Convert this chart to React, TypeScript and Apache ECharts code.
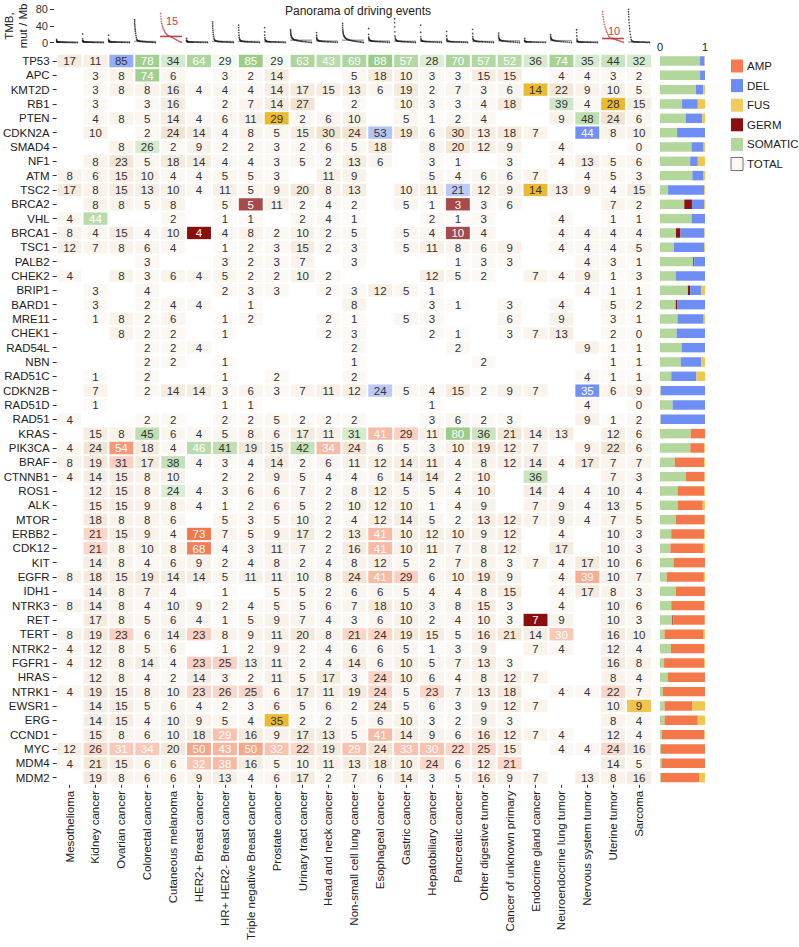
import React, { useEffect, useRef } from "react";
import * as echarts from "echarts";

const _ = null;

const cancerTypes = [
  "Mesothelioma", "Kidney cancer", "Ovarian cancer", "Colorectal cancer", "Cutaneous melanoma",
  "HER2+ Breast cancer", "HR+ HER2- Breast cancer", "Triple negative Breast cancer", "Prostate cancer",
  "Urinary tract cancer", "Head and neck cancer", "Non-small cell lung cancer", "Esophageal cancer",
  "Gastric cancer", "Hepatobiliary cancer", "Pancreatic cancer", "Other digestive tumor",
  "Cancer of unknown primary", "Endocrine gland cancer", "Neuroendocrine lung tumor",
  "Nervous system tumor", "Uterine tumor", "Sarcoma",
];

const genes = [
  "TP53", "APC", "KMT2D", "RB1", "PTEN", "CDKN2A", "SMAD4", "NF1", "ATM", "TSC2", "BRCA2", "VHL",
  "BRCA1", "TSC1", "PALB2", "CHEK2", "BRIP1", "BARD1", "MRE11", "CHEK1", "RAD54L", "NBN", "RAD51C",
  "CDKN2B", "RAD51D", "RAD51", "KRAS", "PIK3CA", "BRAF", "CTNNB1", "ROS1", "ALK", "MTOR", "ERBB2",
  "CDK12", "KIT", "EGFR", "IDH1", "NTRK3", "RET", "TERT", "NTRK2", "FGFR1", "HRAS", "NTRK1", "EWSR1",
  "ERG", "CCND1", "MYC", "MDM4", "MDM2",
];

// % of patients with a driving event (one value per cancer type, null = none)
const TP53 = [17,11,85,78,34,64,29,85,29,63,43,69,88,57,28,70,57,52,36,74,35,44,32];
const APC = [_,3,8,74,6,_,3,2,14,_,_,5,18,10,3,3,15,15,_,4,4,3,2];
const KMT2D = [_,3,8,8,16,4,4,4,14,17,15,13,6,19,2,7,3,6,14,22,9,10,5];
const RB1 = [_,3,_,3,16,_,2,7,14,27,_,2,_,10,3,3,4,18,_,39,4,28,15];
const PTEN = [_,4,8,5,14,4,6,11,29,2,6,10,_,5,1,2,4,_,_,9,48,24,6];
const CDKN2A = [_,10,_,2,24,14,4,8,5,15,30,24,53,19,6,30,13,18,7,_,44,8,10];
const SMAD4 = [_,_,8,26,2,9,2,2,3,2,6,5,18,_,8,20,12,9,_,4,_,_,0];
const NF1 = [_,8,23,5,18,14,4,4,3,5,2,13,6,_,3,1,_,3,_,4,13,5,6];
const ATM = [8,6,15,10,4,4,5,5,3,_,11,9,_,_,5,4,6,6,7,_,4,5,3];
const TSC2 = [17,8,15,13,10,4,11,5,9,20,8,13,_,10,11,21,12,9,14,13,9,4,15];
const BRCA2 = [_,8,8,5,8,_,5,5,11,2,4,2,_,5,1,3,3,6,_,_,_,7,2];
const VHL = [4,44,_,_,2,_,1,1,_,2,4,1,_,_,2,1,3,_,_,4,_,1,1];
const BRCA1 = [8,4,15,4,10,4,4,8,2,10,2,5,_,5,4,10,4,_,_,4,4,4,4];
const TSC1 = [12,7,8,6,4,_,1,2,3,15,2,3,_,5,11,8,6,9,_,4,4,4,5];
const PALB2 = [_,_,_,3,_,_,3,2,3,7,_,3,_,_,_,1,3,3,_,_,4,3,1];
const CHEK2 = [4,_,8,3,6,4,5,2,2,10,2,_,_,_,12,5,2,_,7,4,9,1,3];
const BRIP1 = [_,3,_,4,_,_,2,3,3,_,2,3,12,5,1,_,_,_,_,_,4,1,1];
const BARD1 = [_,3,_,2,4,4,_,1,_,_,_,8,_,_,3,1,_,3,_,4,_,5,2];
const MRE11 = [_,1,8,2,6,_,1,2,_,_,2,1,_,5,3,_,_,6,_,9,_,3,1];
const CHEK1 = [_,_,8,2,2,_,1,_,_,_,2,3,_,_,2,1,_,3,7,13,_,2,0];
const RAD54L = [_,_,_,2,2,4,_,_,_,_,_,2,_,_,_,2,_,_,_,_,9,1,1];
const NBN = [_,_,_,2,2,_,1,_,_,_,_,1,_,_,_,_,2,_,_,_,_,1,1];
const RAD51C = [_,1,_,2,_,_,1,_,2,_,_,2,_,_,_,_,_,_,_,_,4,1,1];
const CDKN2B = [_,7,_,2,14,14,3,6,3,7,11,12,24,5,4,15,2,9,7,_,35,6,9];
const RAD51D = [_,1,_,_,_,_,1,1,_,_,_,_,_,_,1,_,_,_,_,_,4,_,0];
const RAD51 = [4,_,_,2,2,_,2,2,5,2,2,2,_,_,3,6,2,3,_,_,9,1,2];
const KRAS = [_,15,8,45,6,4,5,8,6,17,11,31,41,29,11,80,36,21,14,13,_,12,6];
const PIK3CA = [4,24,54,18,4,46,41,19,15,42,34,24,6,5,3,10,19,12,7,_,9,22,6];
const BRAF = [8,19,31,17,38,4,3,4,14,2,6,11,12,14,11,4,8,12,14,4,17,7,7];
const CTNNB1 = [4,14,15,8,10,_,2,2,9,5,4,4,6,14,14,2,10,_,36,_,_,7,3];
const ROS1 = [_,12,15,8,24,4,3,6,6,7,2,8,12,5,5,4,10,_,14,4,4,10,4];
const ALK = [_,15,15,9,8,4,1,2,6,5,2,10,12,10,1,4,9,_,7,9,4,13,5];
const MTOR = [_,18,8,8,6,_,5,3,5,10,2,4,12,14,5,2,13,12,7,9,4,7,5];
const ERBB2 = [_,21,15,9,4,73,7,5,9,17,2,13,41,10,12,10,9,12,_,4,_,10,3];
const CDK12 = [_,21,8,10,8,68,4,3,11,7,2,16,41,10,11,7,8,12,_,17,_,10,3];
const KIT = [_,14,8,4,6,9,2,4,8,2,4,8,12,5,2,7,8,3,7,4,17,10,6];
const EGFR = [8,18,15,19,14,14,5,11,11,10,8,24,41,29,6,10,19,9,_,4,39,10,7];
const IDH1 = [_,14,8,7,4,_,1,_,5,5,2,6,6,5,4,4,8,15,_,4,17,8,3];
const NTRK3 = [8,14,8,4,10,9,2,4,5,5,6,7,18,10,3,8,15,3,_,4,_,10,6];
const RET = [_,17,8,5,6,4,1,5,9,7,4,3,6,10,2,4,10,3,7,9,_,10,3];
const TERT = [8,19,23,6,14,23,8,9,11,20,8,21,24,19,15,5,16,21,14,30,_,16,10];
const NTRK2 = [4,12,8,5,6,_,1,2,9,2,4,6,6,5,1,3,9,_,7,4,_,12,4];
const FGFR1 = [4,12,8,14,4,23,25,13,11,2,4,14,6,10,5,7,13,3,_,_,_,16,8];
const HRAS = [_,12,8,4,2,14,3,2,11,5,17,3,24,10,6,4,8,12,7,_,_,8,4];
const NTRK1 = [4,19,15,8,10,23,26,25,6,17,11,19,24,5,23,7,13,18,_,4,4,22,7];
const EWSR1 = [_,14,15,5,6,4,2,3,6,5,6,2,24,5,6,3,9,12,7,_,_,10,9];
const ERG = [_,14,15,4,10,9,5,4,35,2,2,5,6,10,3,2,9,3,_,_,_,8,4];
const CCND1 = [_,15,8,6,10,18,29,16,9,17,13,5,41,14,9,6,16,12,7,4,_,12,4];
const MYC = [12,26,31,34,20,50,43,50,32,22,19,29,24,33,30,22,25,15,_,4,4,24,16];
const MDM4 = [4,21,15,6,6,32,38,16,5,10,11,13,18,10,24,6,12,21,_,_,_,14,5];
const MDM2 = [_,19,8,6,6,9,13,4,6,17,2,7,6,14,3,5,16,9,7,_,13,8,16];

const frequencies = [
  TP53, APC, KMT2D, RB1, PTEN, CDKN2A, SMAD4, NF1, ATM, TSC2, BRCA2, VHL, BRCA1, TSC1, PALB2, CHEK2,
  BRIP1, BARD1, MRE11, CHEK1, RAD54L, NBN, RAD51C, CDKN2B, RAD51D, RAD51, KRAS, PIK3CA, BRAF, CTNNB1,
  ROS1, ALK, MTOR, ERBB2, CDK12, KIT, EGFR, IDH1, NTRK3, RET, TERT, NTRK2, FGFR1, HRAS, NTRK1, EWSR1,
  ERG, CCND1, MYC, MDM4, MDM2,
];

// cells dominated by one event type: [gene, cancer type index, event type, share of that type]
const dominantEvents = [
  ["TP53",2,"DEL",0.7],["TP53",3,"SOMATIC",0.8],["TP53",4,"SOMATIC",0.35],["TP53",5,"SOMATIC",0.7],
  ["TP53",6,"SOMATIC",0.12],["TP53",7,"SOMATIC",0.85],["TP53",8,"SOMATIC",0.12],["TP53",9,"SOMATIC",0.7],
  ["TP53",10,"SOMATIC",0.6],["TP53",11,"SOMATIC",0.7],["TP53",12,"SOMATIC",0.85],["TP53",13,"SOMATIC",0.65],
  ["TP53",14,"SOMATIC",0.3],["TP53",15,"SOMATIC",0.7],["TP53",16,"SOMATIC",0.65],["TP53",17,"SOMATIC",0.62],
  ["TP53",18,"SOMATIC",0.35],["TP53",19,"SOMATIC",0.75],["TP53",20,"SOMATIC",0.35],["TP53",21,"SOMATIC",0.45],
  ["TP53",22,"SOMATIC",0.35],
  ["APC",3,"SOMATIC",0.8],
  ["KMT2D",18,"FUS",1],
  ["RB1",19,"SOMATIC",0.4],["RB1",21,"FUS",1],
  ["PTEN",8,"FUS",1],["PTEN",20,"SOMATIC",0.55],
  ["CDKN2A",12,"DEL",0.5],["CDKN2A",20,"DEL",0.95],
  ["SMAD4",3,"SOMATIC",0.35],
  ["TSC2",15,"DEL",0.45],["TSC2",18,"FUS",1],
  ["BRCA2",7,"GERM",0.75],["BRCA2",15,"GERM",0.75],
  ["VHL",1,"SOMATIC",0.6],
  ["BRCA1",5,"GERM",1],["BRCA1",15,"GERM",0.75],
  ["CDKN2B",12,"DEL",0.45],["CDKN2B",20,"DEL",0.95],
  ["KRAS",3,"SOMATIC",0.55],["KRAS",11,"SOMATIC",0.35],["KRAS",12,"AMP",0.5],["KRAS",13,"AMP",0.35],
  ["KRAS",15,"SOMATIC",0.85],["KRAS",16,"SOMATIC",0.45],
  ["PIK3CA",2,"AMP",0.75],["PIK3CA",5,"SOMATIC",0.6],["PIK3CA",6,"SOMATIC",0.55],["PIK3CA",9,"SOMATIC",0.5],
  ["PIK3CA",10,"AMP",0.5],
  ["BRAF",2,"AMP",0.35],["BRAF",4,"SOMATIC",0.5],
  ["CTNNB1",18,"SOMATIC",0.45],
  ["ROS1",4,"SOMATIC",0.3],
  ["ERBB2",1,"AMP",0.3],["ERBB2",5,"AMP",1],["ERBB2",12,"AMP",0.5],
  ["CDK12",1,"AMP",0.3],["CDK12",5,"AMP",0.95],["CDK12",12,"AMP",0.5],
  ["EGFR",12,"AMP",0.5],["EGFR",13,"AMP",0.35],["EGFR",20,"AMP",0.6],
  ["RET",18,"GERM",1],
  ["TERT",2,"AMP",0.35],["TERT",5,"AMP",0.35],["TERT",11,"AMP",0.3],["TERT",12,"AMP",0.3],["TERT",19,"AMP",0.4],
  ["FGFR1",5,"AMP",0.35],["FGFR1",6,"AMP",0.35],
  ["HRAS",12,"AMP",0.3],
  ["NTRK1",5,"AMP",0.3],["NTRK1",6,"AMP",0.3],["NTRK1",7,"AMP",0.3],["NTRK1",12,"AMP",0.3],
  ["NTRK1",14,"AMP",0.3],["NTRK1",21,"AMP",0.3],
  ["EWSR1",22,"FUS",0.85],
  ["ERG",8,"FUS",1],
  ["CCND1",6,"AMP",0.45],["CCND1",12,"AMP",0.5],
  ["MYC",1,"AMP",0.3],["MYC",2,"AMP",0.4],["MYC",3,"AMP",0.4],["MYC",5,"AMP",0.65],["MYC",6,"AMP",0.55],
  ["MYC",7,"AMP",0.65],["MYC",8,"AMP",0.45],["MYC",9,"AMP",0.3],["MYC",11,"AMP",0.45],["MYC",13,"AMP",0.45],
  ["MYC",14,"AMP",0.45],["MYC",15,"AMP",0.3],["MYC",16,"AMP",0.3],["MYC",21,"AMP",0.3],
  ["MDM4",5,"AMP",0.45],["MDM4",6,"AMP",0.5],["MDM4",14,"AMP",0.3],["MDM4",17,"AMP",0.3],
];

// share of each event type per gene (right panel)
const somaticShare = [0.89,0.89,0.8,0.49,0.57,0.38,0.7,0.67,0.72,0.18,0.54,0.7,0.355,0.31,0.74,0.35,0.62,0.35,0.39,0.37,0.48,0.46,0.25,0.02,0.28,0.02,0.68,0.675,0.33,0.57,0.39,0.39,0.35,0.25,0.23,0.3,0.145,0.35,0.25,0.275,0.1,0.24,0.09,0.17,0.065,0.1,0.1,0.04,0.02,0.035,0.02];
const germlineShare = [0,0,0,0,0,0,0,0,0,0,0.17,0,0.1,0,0.02,0,0.05,0.03,0,0,0,0,0,0,0,0,0,0,0,0,0,0,0,0,0,0,0,0,0,0.02,0,0,0,0,0,0,0,0,0,0,0];
const deletionShare = [0.1,0.11,0.16,0.35,0.37,0.62,0.27,0.17,0.25,0.8,0.27,0.3,0.53,0.67,0.24,0.65,0.24,0.62,0.58,0.63,0.52,0.46,0.56,0.98,0.72,0.98,0,0,0,0,0,0,0,0,0,0,0,0,0,0,0,0,0,0,0,0,0,0,0,0,0];
const amplificationShare = [0,0,0,0,0,0,0,0,0,0,0,0,0,0,0,0,0,0,0,0,0,0,0,0,0,0,0.32,0.31,0.65,0.42,0.59,0.56,0.645,0.73,0.74,0.7,0.83,0.65,0.74,0.7,0.87,0.75,0.89,0.83,0.935,0.62,0.74,0.95,0.98,0.965,0.855];
const fusionShare = [0.01,0,0.04,0.16,0.06,0,0.03,0.16,0.03,0.02,0.02,0,0.015,0.02,0,0,0.09,0,0.03,0,0,0.08,0.19,0,0,0,0,0.015,0.02,0.01,0.02,0.05,0.005,0.02,0.03,0,0.025,0,0.01,0.005,0.03,0.01,0.02,0,0,0.28,0.16,0.01,0,0,0.125];

// tumour mutational burden (mut/Mb) per patient, sorted, per cancer type
const tmbMesothelioma = [8,5,3.5,3,2.6,2.3,2.1,2,1.9,1.8,1.7,1.6,1.5,1.5,1.4,1.3,1.2,1.1,1,1,0.9,0.8,0.7,0.6,0.5,0.4,0.3,0.2];
const tmbKidney = [21,9,5,4,3.4,3,2.7,2.5,2.3,2.1,2,1.9,1.8,1.7,1.6,1.5,1.4,1.3,1.2,1.1,1,0.9,0.8,0.7,0.6,0.5,0.4,0.3];
const tmbOvarian = [18,8,5,4,3.5,3.1,2.8,2.6,2.4,2.2,2.1,2,1.9,1.8,1.7,1.6,1.5,1.4,1.3,1.2,1.1,1,0.9,0.8,0.6,0.4];
const tmbColorectal = [55,51,47,43,39,35,31,27,22,17,12,8,6,5,4.4,4,3.7,3.4,3.2,3,2.8,2.6,2.4,2.2,2,1.8,1.6,1.4,1.2,1,0.8,0.5];
const tmbMelanoma = [70,63,57,51,46,41,37,33,30,27,24,22,20,18,16.5,15.5,15,14.5,13.5,12,10.5,9,7.5,6,4.5,3,2,1];
const tmbHER2 = [10,6,4.5,3.6,3.1,2.8,2.5,2.3,2.1,2,1.9,1.8,1.7,1.6,1.5,1.4,1.3,1.2,1.1,1,0.9,0.8,0.6,0.4];
const tmbHRpos = [50,45,40,35,30,25,20,15,11,8,6,5,4.3,3.8,3.4,3.1,2.9,2.7,2.5,2.3,2.1,2,1.8,1.6,1.4,1.2,1,0.7,0.4];
const tmbTNBC = [42,36,30,24,18,13,9,7,5.5,4.6,4,3.6,3.3,3,2.8,2.6,2.4,2.2,2,1.8,1.6,1.4,1.2,1,0.7,0.4];
const tmbProstate = [36,26,18,12,8,6,4.8,4,3.4,3,2.7,2.5,2.3,2.1,2,1.9,1.8,1.7,1.5,1.3,1.1,0.9,0.6,0.3];
const tmbUrinary = [31,28,25,22,19,17,15,13,11.5,10,9,8.2,7.5,6.9,6.3,5.8,5.3,4.8,4.3,3.9,3.5,3.1,2.7,2.3,1.9,1.5,1,0.5];
const tmbHeadNeck = [24,18,13,10,8,6.8,6,5.4,4.9,4.5,4.1,3.8,3.5,3.2,3,2.8,2.6,2.4,2.2,2,1.7,1.4,1.1,0.7];
const tmbNSCLC = [46,41,36,32,28,25,22,19.5,17,15,13.5,12,10.8,9.7,8.8,8,7.3,6.7,6.1,5.6,5.1,4.6,4.1,3.6,3.1,2.6,2.1,1.6,1,0.5];
const tmbEsophageal = [34,20,13,10,8,6.8,6,5.4,4.9,4.5,4.1,3.8,3.5,3.2,3,2.8,2.6,2.4,2.2,2,1.7,1.4,1,0.6];
const tmbGastric = [57,48,38,26,16,11,8,6.5,5.5,4.8,4.3,3.9,3.6,3.3,3.1,2.9,2.7,2.5,2.3,2.1,1.9,1.7,1.4,1.1,0.8,0.4];
const tmbHepatobiliary = [42,25,14,9,6.5,5.2,4.5,4,3.6,3.3,3,2.8,2.6,2.4,2.2,2,1.8,1.6,1.4,1.1,0.8,0.4];
const tmbPancreatic = [27,16,10,7,5.4,4.5,3.9,3.5,3.2,2.9,2.7,2.5,2.3,2.2,2,1.9,1.7,1.5,1.3,1.1,0.8,0.5];
const tmbOtherDigestive = [32,22,15,10.5,8,6.5,5.5,4.8,4.3,3.9,3.5,3.2,2.9,2.7,2.5,2.3,2.1,1.8,1.5,1.2,0.8,0.4];
const tmbUnknownPrimary = [23,18,14,11.5,9.5,8,7,6.2,5.6,5,4.6,4.2,3.8,3.5,3.2,2.9,2.6,2.3,2,1.7,1.3,0.9,0.5];
const tmbEndocrine = [10,5.5,4,3.2,2.7,2.4,2.2,2,1.9,1.8,1.7,1.6,1.5,1.4,1.2,1,0.8,0.6,0.4];
const tmbNELung = [19,15,12,10,8.8,7.8,7,6.3,5.7,5.2,4.7,4.3,3.9,3.5,3.1,2.7,2.3,1.9,1.4,0.9,0.5];
const tmbNervous = [31,24,16,9,5.5,3.8,3,2.6,2.3,2.1,1.9,1.8,1.7,1.6,1.5,1.4,1.3,1.2,1.1,1,0.9,0.8,0.6,0.4];
const tmbUterine = [74,68,62,56,50,44,38,33,28,24,20,16,13,11,10.4,10,9.6,9,8,7,6,5,4,3,2,1];
const tmbSarcoma = [80,74,68,62,55,48,41,34,27,20,13,7,4,3,2.6,2.3,2.1,1.9,1.8,1.7,1.6,1.5,1.4,1.3,1.2,1,0.8,0.6,0.4];

const tmbMedian = [1.5,2,2,3,15,2,3,3,2,6,4,6,4,3.5,3,2.4,3,4.5,1.9,5,1.8,10,1.8];
const tmbHighlighted = [4, 21];

const tmbByType = [
  tmbMesothelioma, tmbKidney, tmbOvarian, tmbColorectal, tmbMelanoma, tmbHER2, tmbHRpos, tmbTNBC,
  tmbProstate, tmbUrinary, tmbHeadNeck, tmbNSCLC, tmbEsophageal, tmbGastric, tmbHepatobiliary,
  tmbPancreatic, tmbOtherDigestive, tmbUnknownPrimary, tmbEndocrine, tmbNELung, tmbNervous,
  tmbUterine, tmbSarcoma,
];

const FONT = "Liberation Sans, Arial, Helvetica, sans-serif";
const RED = "#c0424a";

const cellBase: Record<string, number[]> = {
  AMP: [244, 118, 76],
  DEL: [104, 138, 243],
  FUS: [236, 186, 48],
  GERM: [139, 14, 14],
  SOMATIC: [138, 195, 115],
  TOTAL: [236, 216, 190],
};

const legendColors: Record<string, string> = {
  AMP: "#f87a4f",
  DEL: "#6c8cf5",
  FUS: "#f1cc5c",
  GERM: "#8b0f0f",
  SOMATIC: "#b3d89b",
  TOTAL: "#fcf7f1",
};

const barColors = {
  SOMATIC: "#b3d69a",
  GERM: "#8b1212",
  DEL: "#6e8ef5",
  AMP: "#f5784a",
  FUS: "#efc64e",
};

function rgba(c: number[], a: number) {
  return `rgba(${c[0]},${c[1]},${c[2]},${a})`;
}

function whiteText(type: string, level: number) {
  if (type === "GERM") return true;
  if (type === "AMP") return level >= 0.4;
  if (type === "SOMATIC") return level >= 0.6;
  if (type === "DEL") return level >= 0.8;
  return false;
}

export default function App() {
  const ref = useRef<HTMLDivElement>(null);

  useEffect(() => {
    if (!ref.current) return;
    const chart = echarts.init(ref.current, null, { renderer: "svg" });

    const dominantMap: Record<string, [string, number]> = {};
    dominantEvents.forEach((d: any) => {
      dominantMap[`${genes.indexOf(d[0])}-${d[1]}`] = [d[2], d[3]];
    });

    const cells: number[][] = [];
    frequencies.forEach((row, g) =>
      row.forEach((v, c) => {
        if (v !== null && v !== undefined) cells.push([c, g, v as number]);
      })
    );

    const tmbNormal: number[][] = [];
    const tmbRed: number[][] = [];
    tmbByType.forEach((vals, i) => {
      const n = vals.length;
      const hi = tmbHighlighted.includes(i);
      vals.forEach((v, k) => {
        const frac = n > 1 ? k / (n - 1) : 0;
        const x = i + 0.1 + 0.8 * Math.pow(frac, hi ? 1.5 : 2.2);
        (hi ? tmbRed : tmbNormal).push([x, v]);
      });
    });
    const medianData = tmbMedian.map((m, i) => [i, m, tmbHighlighted.includes(i) ? 1 : 0]);
    const medianLabelLift: Record<number, number> = { 4: 15, 21: 8 };

    const legendNames = ["AMP", "DEL", "FUS", "GERM", "SOMATIC", "TOTAL"];
    const graphic: any[] = [];
    legendNames.forEach((name, i) => {
      const cy = 66 + i * 19.6;
      graphic.push({
        type: "rect",
        shape: { x: 731, y: cy - 6.5, width: 12, height: 13 },
        style: {
          fill: legendColors[name],
          stroke: name === "TOTAL" ? "#777" : undefined,
          lineWidth: name === "TOTAL" ? 1 : 0,
        },
      });
      graphic.push({
        type: "text",
        x: 747,
        y: cy,
        style: { text: name, fontSize: 11.5, fontFamily: FONT, fill: "#222", verticalAlign: "middle", align: "left" },
      });
    });
    graphic.push({
      type: "text",
      x: 16,
      y: 26,
      rotation: Math.PI / 2,
      style: {
        text: "TMB,\nmut / Mb",
        fontSize: 11.5,
        lineHeight: 14,
        fontFamily: FONT,
        fill: "#222",
        align: "center",
        verticalAlign: "middle",
      },
    });

    const option: any = {
      animation: false,
      textStyle: { fontFamily: FONT },
      title: {
        text: "Panorama of driving events",
        left: 353,
        top: 0,
        textAlign: "center",
        textStyle: { fontSize: 12, fontWeight: "normal", color: "#222", fontFamily: FONT },
      },
      graphic,
      grid: [
        { left: 54, top: 53.8, width: 598, height: 731 },
        { left: 660, top: 53.8, width: 45, height: 731 },
        { left: 54, top: 9.3, width: 598, height: 33.4 },
      ],
      xAxis: [
        {
          gridIndex: 0,
          type: "category",
          data: cancerTypes,
          position: "bottom",
          axisLine: { show: false },
          axisTick: { show: true, alignWithLabel: true, length: 3, lineStyle: { color: "#333" } },
          axisLabel: { rotate: 90, fontSize: 11.5, color: "#222", margin: 6, interval: 0, fontFamily: FONT },
          splitLine: { show: false },
        },
        {
          gridIndex: 1,
          type: "value",
          min: 0,
          max: 1,
          interval: 1,
          position: "top",
          axisLine: { show: false },
          axisTick: { show: false },
          splitLine: { show: false },
          axisLabel: { fontSize: 11, color: "#222", margin: 1, fontFamily: FONT },
        },
        { gridIndex: 2, type: "value", min: 0, max: 23, show: false },
      ],
      yAxis: [
        {
          gridIndex: 0,
          type: "category",
          data: genes,
          inverse: true,
          axisLine: { show: false },
          axisTick: { show: true, alignWithLabel: true, length: 4, lineStyle: { color: "#333" } },
          axisLabel: { fontSize: 11.5, color: "#222", margin: 7, interval: 0, fontFamily: FONT },
          splitLine: { show: false },
        },
        { gridIndex: 1, type: "category", data: genes, inverse: true, show: false },
        {
          gridIndex: 2,
          type: "value",
          min: 0,
          max: 80,
          interval: 40,
          axisLine: { show: false },
          axisTick: { show: true, length: 4, lineStyle: { color: "#333" } },
          splitLine: { show: false },
          axisLabel: { fontSize: 11, color: "#333", margin: 6, fontFamily: FONT },
        },
      ],
      series: [
        {
          type: "custom",
          name: "cells",
          xAxisIndex: 0,
          yAxisIndex: 0,
          data: cells,
          renderItem: (params: any, api: any) => {
            const c = api.value(0);
            const g = api.value(1);
            const v = api.value(2);
            const p = api.coord([c, g]);
            const s = api.size([1, 1]);
            const dom = dominantMap[`${g}-${c}`];
            let fill: string;
            let txt = "#333";
            if (dom) {
              fill = rgba(cellBase[dom[0]], dom[1]);
              if (whiteText(dom[0], dom[1])) txt = "#ffffff";
            } else {
              fill = rgba(cellBase.TOTAL, Math.min(0.72, 0.1 + v / 40));
            }
            return {
              type: "group",
              children: [
                {
                  type: "rect",
                  shape: { x: p[0] - s[0] / 2 + 1, y: p[1] - s[1] / 2 + 1, width: s[0] - 2, height: s[1] - 2 },
                  style: { fill },
                },
                {
                  type: "text",
                  style: {
                    text: String(v),
                    x: p[0],
                    y: p[1] + 0.5,
                    align: "center",
                    verticalAlign: "middle",
                    fill: txt,
                    fontSize: 11.5,
                    fontFamily: FONT,
                  },
                },
              ],
            };
          },
        },
        ...([
          ["SOMATIC", somaticShare],
          ["GERM", germlineShare],
          ["DEL", deletionShare],
          ["AMP", amplificationShare],
          ["FUS", fusionShare],
        ] as [string, number[]][]).map(([name, arr]) => ({
          type: "bar",
          name,
          xAxisIndex: 1,
          yAxisIndex: 1,
          stack: "share",
          barWidth: "66%",
          data: arr,
          itemStyle: { color: (barColors as any)[name] },
          silent: true,
        })),
        {
          type: "custom",
          xAxisIndex: 2,
          yAxisIndex: 2,
          data: medianData,
          renderItem: (params: any, api: any) => {
            const i = api.value(0);
            const m = api.value(1);
            const hi = api.value(2) === 1;
            const a = api.coord([i + 0.08, m]);
            const b = api.coord([i + 0.92, m]);
            const children: any[] = [
              {
                type: "line",
                shape: { x1: a[0], y1: a[1], x2: b[0], y2: b[1] },
                style: { stroke: hi ? RED : "#a0a0a0", lineWidth: hi ? 1.6 : 1.4 },
              },
            ];
            if (hi) {
              children.push({
                type: "text",
                style: {
                  text: String(m),
                  x: (a[0] + b[0]) / 2 + 1,
                  y: a[1] - (medianLabelLift[i] || 10),
                  align: "center",
                  verticalAlign: "middle",
                  fill: RED,
                  fontSize: 11,
                  fontFamily: FONT,
                },
              });
            }
            return { type: "group", children };
          },
        },
        {
          type: "scatter",
          xAxisIndex: 2,
          yAxisIndex: 2,
          data: tmbNormal,
          symbolSize: 1.6,
          itemStyle: { color: "#1a1a1a" },
          silent: true,
        },
        {
          type: "scatter",
          xAxisIndex: 2,
          yAxisIndex: 2,
          data: tmbRed,
          symbolSize: 1.6,
          itemStyle: { color: RED },
          silent: true,
        },
      ],
    };

    chart.setOption(option);
    return () => chart.dispose();
  }, []);

  return (
    <div
      ref={ref}
      style={{ position: "absolute", left: 0, top: 0, width: 799, height: 947, background: "#fff" }}
    />
  );
}
